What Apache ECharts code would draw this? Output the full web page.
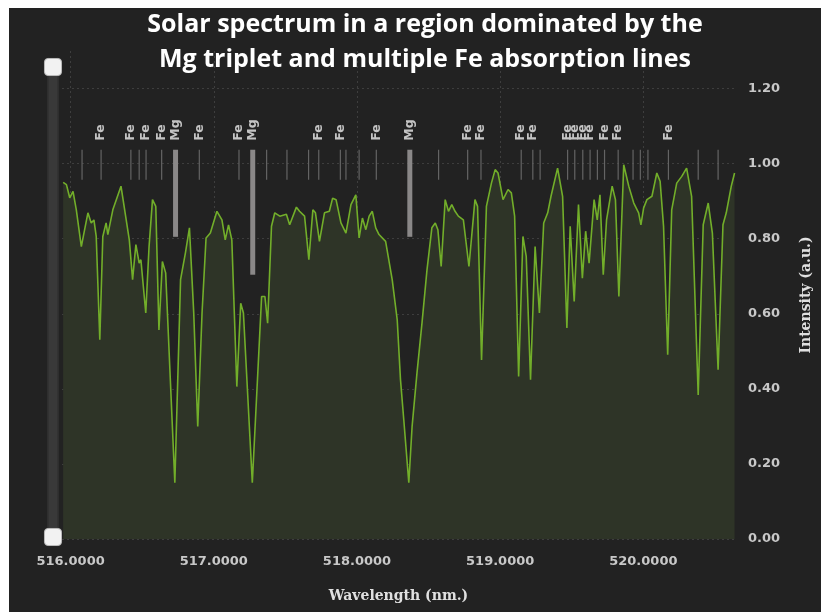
<!DOCTYPE html>
<html>
<head>
<meta charset="utf-8">
<script src="https://cdn.jsdelivr.net/npm/echarts@6/dist/echarts.min.js"></script>
<style>
  html, body { margin: 0; padding: 0; background: #ffffff; }
  #chart { position: absolute; left: 9px; top: 8px; width: 812px; height: 604px; }
</style>
</head>
<body>
<div id="chart"></div>
<script>
// ---- Data ----
const titleText = 'Solar spectrum in a region dominated by the\nMg triplet and multiple Fe absorption lines';
const xTickValues = [516, 517, 518, 519, 520];
const wavelengths = [
  515.948, 515.971, 515.994, 516.017, 516.040, 516.075, 516.098, 516.121, 516.144, 516.163,
  516.179, 516.204, 516.225, 516.248, 516.260, 516.295, 516.352, 516.410, 516.433, 516.456,
  516.479, 516.491, 516.525, 516.548, 516.572, 516.595, 516.617, 516.641, 516.664, 516.728,
  516.768, 516.802, 516.830, 516.860, 516.888, 516.918, 516.946, 516.976, 517.022, 517.057,
  517.080, 517.103, 517.126, 517.161, 517.188, 517.207, 517.269, 517.334, 517.357, 517.376,
  517.403, 517.426, 517.461, 517.507, 517.530, 517.577, 517.599, 517.634, 517.664, 517.692,
  517.710, 517.738, 517.773, 517.807, 517.830, 517.854, 517.888, 517.923, 517.958, 517.992,
  518.015, 518.038, 518.062, 518.085, 518.107, 518.131, 518.154, 518.200, 518.246, 518.281,
  518.304, 518.327, 518.362, 518.385, 518.419, 518.454, 518.489, 518.523, 518.547, 518.565,
  518.588, 518.616, 518.639, 518.662, 518.685, 518.708, 518.743, 518.782, 518.824, 518.842,
  518.870, 518.904, 518.939, 518.965, 518.985, 519.020, 519.055, 519.078, 519.101, 519.129,
  519.159, 519.182, 519.212, 519.244, 519.274, 519.304, 519.332, 519.355, 519.401, 519.436,
  519.466, 519.489, 519.517, 519.547, 519.574, 519.597, 519.621, 519.656, 519.678, 519.697,
  519.720, 519.743, 519.782, 519.805, 519.829, 519.863, 519.898, 519.933, 519.967, 519.983,
  520.002, 520.025, 520.060, 520.094, 520.117, 520.141, 520.170, 520.198, 520.233, 520.268,
  520.302, 520.337, 520.383, 520.418, 520.453, 520.482, 520.522, 520.556, 520.579, 520.614,
  520.637
];
const intensity = [
  0.950, 0.944, 0.909, 0.926, 0.877, 0.779, 0.824, 0.869, 0.842, 0.850,
  0.806, 0.531, 0.806, 0.842, 0.811, 0.877, 0.940, 0.797, 0.691, 0.784,
  0.735, 0.744, 0.602, 0.779, 0.904, 0.886, 0.557, 0.739, 0.709, 0.150,
  0.691, 0.762, 0.829, 0.602, 0.300, 0.602, 0.802, 0.815, 0.873, 0.850,
  0.797, 0.837, 0.797, 0.406, 0.628, 0.602, 0.150, 0.646, 0.646, 0.575,
  0.833, 0.869, 0.860, 0.865, 0.837, 0.884, 0.873, 0.860, 0.744, 0.877,
  0.869, 0.793, 0.869, 0.873, 0.908, 0.904, 0.842, 0.815, 0.891, 0.917,
  0.802, 0.855, 0.824, 0.860, 0.873, 0.829, 0.811, 0.793, 0.691, 0.584,
  0.424, 0.317, 0.150, 0.300, 0.442, 0.575, 0.717, 0.829, 0.842, 0.824,
  0.726, 0.904, 0.873, 0.891, 0.873, 0.860, 0.850, 0.726, 0.904, 0.886,
  0.477, 0.886, 0.948, 0.984, 0.975, 0.904, 0.931, 0.922, 0.860, 0.433,
  0.806, 0.753, 0.424, 0.779, 0.602, 0.842, 0.869, 0.913, 0.988, 0.913,
  0.562, 0.833, 0.633, 0.891, 0.695, 0.820, 0.735, 0.904, 0.850, 0.917,
  0.704, 0.850, 0.940, 0.904, 0.646, 0.997, 0.940, 0.895, 0.869, 0.837,
  0.882, 0.904, 0.913, 0.975, 0.953, 0.833, 0.491, 0.877, 0.948, 0.966,
  0.988, 0.913, 0.384, 0.837, 0.895, 0.815, 0.451, 0.837, 0.869, 0.940,
  0.975
];
// absorption line markers
const lineWavelengths = [
  516.080, 516.213, 516.421, 516.479, 516.527, 516.636, 516.733, 516.899, 517.176, 517.272,
  517.369, 517.511, 517.662, 517.733, 517.884, 517.923, 518.015, 518.135, 518.369, 518.570,
  518.773, 518.866, 519.147, 519.228, 519.279, 519.471, 519.521, 519.577, 519.628, 519.679,
  519.729, 519.824, 519.928, 519.979, 520.032, 520.175, 520.383, 520.522
];
const lineElements = [
  '', 'Fe', 'Fe', '', 'Fe', 'Fe', 'Mg', 'Fe', 'Fe', 'Mg',
  '', '', '', 'Fe', 'Fe', '', '', 'Fe', 'Mg', '',
  'Fe', 'Fe', 'Fe', 'Fe', '', 'Fe', 'Fe', 'Fe', 'Fe', '',
  'Fe', 'Fe', '', '', '', 'Fe', '', ''
];
// lower end (intensity units) of the three Mg triplet bars
const mgBarBottoms = [0.805, 0.704, 0.805];

// ---- Chart ----
const MARK_TOP = 1.037, MARK_BOTTOM = 0.957;
const spectrum = wavelengths.map((w, i) => [w, intensity[i]]);
let mgCount = 0;
const markerData = lineWavelengths.map((w, i) => {
  const isMg = lineElements[i] === 'Mg';
  const bottom = isMg ? mgBarBottoms[mgCount++] : MARK_BOTTOM;
  return [w, bottom, i];
});

const chart = echarts.init(document.getElementById('chart'));
chart.setOption({
  backgroundColor: '#222222',
  animation: false,
  title: {
    text: titleText,
    left: 416, top: -1, padding: 0,
    textAlign: 'center',
    textStyle: { color: '#ffffff', fontFamily: 'Open Sans', fontWeight: 'bold', fontSize: 25, lineHeight: 35 }
  },
  grid: { left: 53, right: 82, top: 43, bottom: 73 },
  xAxis: {
    type: 'value', min: 515.94, max: 520.64,
    name: 'Wavelength (nm.)', nameLocation: 'middle', nameGap: 50,
    nameTextStyle: { color: '#e0e0e0', fontFamily: 'DejaVu Serif', fontWeight: 'bold', fontSize: 14 },
    axisLine: { show: false },
    axisTick: { show: false, customValues: xTickValues },
    axisLabel: { customValues: xTickValues, color: '#c8c8c8', fontFamily: 'DejaVu Sans', fontWeight: 'bold', fontSize: 13, margin: 16,
      formatter: v => v.toFixed(4) },
    splitLine: { show: true, customValues: xTickValues, lineStyle: { color: '#3e3e3e', type: [2, 3], width: 1 } }
  },
  yAxis: {
    type: 'value', position: 'right', min: 0, max: 1.3, interval: 0.2,
    name: 'Intensity (a.u.)', nameLocation: 'middle', nameGap: 64, nameRotate: 90,
    nameTextStyle: { color: '#e0e0e0', fontFamily: 'DejaVu Serif', fontWeight: 'bold', fontSize: 14 },
    axisLine: { show: false },
    axisTick: { show: false },
    axisLabel: { color: '#c8c8c8', fontFamily: 'DejaVu Sans', fontWeight: 'bold', fontSize: 13, margin: 13,
      showMaxLabel: false, formatter: v => v.toFixed(2) },
    splitLine: { show: true, showMaxLine: false, lineStyle: { color: '#3e3e3e', type: [2, 3], width: 1 } }
  },
  dataZoom: [{
    type: 'slider', yAxisIndex: 0, orient: 'vertical', filterMode: 'none',
    left: 38, top: 58, height: 472, width: 11,
    start: 0, end: 100, showDetail: false, showDataShadow: false, brushSelect: false,
    backgroundColor: '#363636', fillerColor: 'rgba(60,60,60,0.5)', borderColor: '#2c2c2c',
    handleIcon: 'path://M3,0 H11 A3,3 0 0 1 14,3 V11 A3,3 0 0 1 11,14 H3 A3,3 0 0 1 0,11 V3 A3,3 0 0 1 3,0 Z',
    handleSize: '155%',
    handleStyle: { color: '#f2f2f2', borderColor: '#bbbbbb', borderWidth: 1 },
    moveHandleSize: 0,
    moveHandleStyle: { opacity: 0 }
  }],
  series: [
    {
      type: 'line', data: spectrum, showSymbol: false, smooth: false,
      lineStyle: { color: '#72ae2a', width: 1.6 },
      areaStyle: { color: '#2e3427', opacity: 1 },
      z: 2
    },
    {
      type: 'custom', data: markerData, z: 3, clip: false,
      renderItem: function (params, api) {
        const w = api.value(0);
        const i = api.value(2);
        const el = lineElements[i];
        const isMg = el === 'Mg';
        const top = api.coord([w, MARK_TOP]);
        const bot = api.coord([w, api.value(1)]);
        const children = [{
          type: 'line',
          shape: { x1: top[0], y1: top[1], x2: bot[0], y2: bot[1] },
          style: { stroke: isMg ? '#8a8888' : '#646464', lineWidth: isMg ? 5 : 1.2 }
        }];
        if (el) {
          children.push({
            type: 'text', x: top[0], y: top[1] - 9, rotation: Math.PI / 2,
            style: { text: el, fill: '#c4c4c4', font: 'bold 12.5px "DejaVu Sans"', align: 'left', verticalAlign: 'middle' }
          });
        }
        return { type: 'group', children: children };
      }
    }
  ]
});
</script>
</body>
</html>
